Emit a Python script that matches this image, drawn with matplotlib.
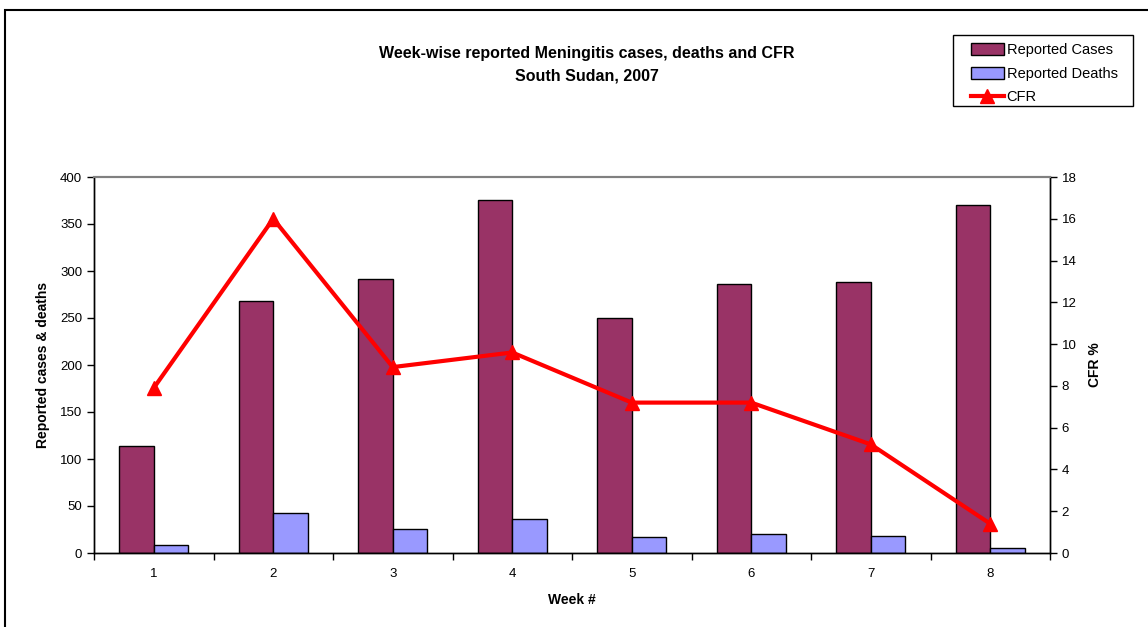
import matplotlib
matplotlib.use('Agg')
import matplotlib.pyplot as plt
import numpy as np
from matplotlib.patches import Rectangle

plt.rcParams['font.family'] = ['Liberation Sans', 'DejaVu Sans']

weeks = [1, 2, 3, 4, 5, 6, 7, 8]
cases = [114, 268, 291, 376, 250, 286, 288, 370]
deaths = [9, 43, 26, 36, 17, 20, 18, 5]
cfr = [7.9, 16.0, 8.9, 9.6, 7.2, 7.2, 5.2, 1.4]

case_color = '#993366'
death_color = '#9999FF'

fig = plt.figure(figsize=(11.48, 6.27), dpi=100)
ax = fig.add_axes([94 / 1148, 1 - 553 / 627, (1050 - 94) / 1148, (553 - 177) / 627])
ax2 = ax.twinx()

x = np.array(weeks)
w = 0.287
ax.bar(x - w / 2, cases, width=w, color=case_color, edgecolor='black', linewidth=1.0,
       label='Reported Cases', zorder=2)
ax.bar(x + w / 2, deaths, width=w, color=death_color, edgecolor='black', linewidth=1.0,
       label='Reported Deaths', zorder=2)
ax2.plot(x, cfr, color='red', linewidth=3, marker='^', markersize=10, label='CFR',
         clip_on=False)

ax.set_xlim(0.5, 8.5)
ax.set_ylim(0, 400)
ax.set_yticks(np.arange(0, 401, 50))
ax2.set_ylim(0, 18)
ax2.set_yticks(np.arange(0, 19, 2))

ax.set_xticks(x)
ax.set_xticklabels([str(v) for v in weeks])
ax.set_xticks(np.arange(0.5, 9, 1), minor=True)
ax.tick_params(axis='x', which='major', length=0, labelsize=9.5, pad=11)
ax.tick_params(axis='x', which='minor', length=5, direction='out', width=1)
ax.tick_params(axis='y', length=5, direction='out', width=1, labelsize=9.5)
ax2.tick_params(axis='y', length=5, direction='out', width=1, labelsize=9.5)

for a in (ax, ax2):
    a.spines['top'].set_color('#808080')
    a.spines['top'].set_linewidth(1.5)
    for s in ('left', 'right', 'bottom'):
        a.spines[s].set_color('black')
        a.spines[s].set_linewidth(1.0)

ax.set_xlabel('Week #', fontsize=10, fontweight='bold', labelpad=9)
ax.set_ylabel('Reported cases & deaths', fontsize=10, fontweight='bold', labelpad=7)
ax2.set_ylabel('CFR %', fontsize=10, fontweight='bold', labelpad=8)

fig.text(0.511, 1 - 65 / 627, 'Week-wise reported Meningitis cases, deaths and CFR\nSouth Sudan, 2007',
         ha='center', va='center', fontsize=11.5, fontweight='bold', linespacing=1.65)

# legend: entries without frame, box drawn separately
h1, l1 = ax.get_legend_handles_labels()
h2, l2 = ax2.get_legend_handles_labels()
leg = fig.legend(h1 + h2, l1 + l2, loc='upper left', bbox_to_anchor=(971 / 1148, 1 - 43 / 627),
                 fontsize=10.5, frameon=False, handlelength=2.25, handletextpad=0.2,
                 borderpad=0, labelspacing=0.65, borderaxespad=0, handleheight=0.9)
fig.patches.append(Rectangle((953 / 1148, 1 - 106 / 627), 180 / 1148, 71 / 627,
                             transform=fig.transFigure, fill=False, edgecolor='black',
                             linewidth=1.0))

fig.patches.append(Rectangle((5 / 1148, -0.1), 1.2, 1.1 - 10 / 627, transform=fig.transFigure,
                             fill=False, edgecolor='black', linewidth=1.5))

fig.savefig('out.png', dpi=100)
